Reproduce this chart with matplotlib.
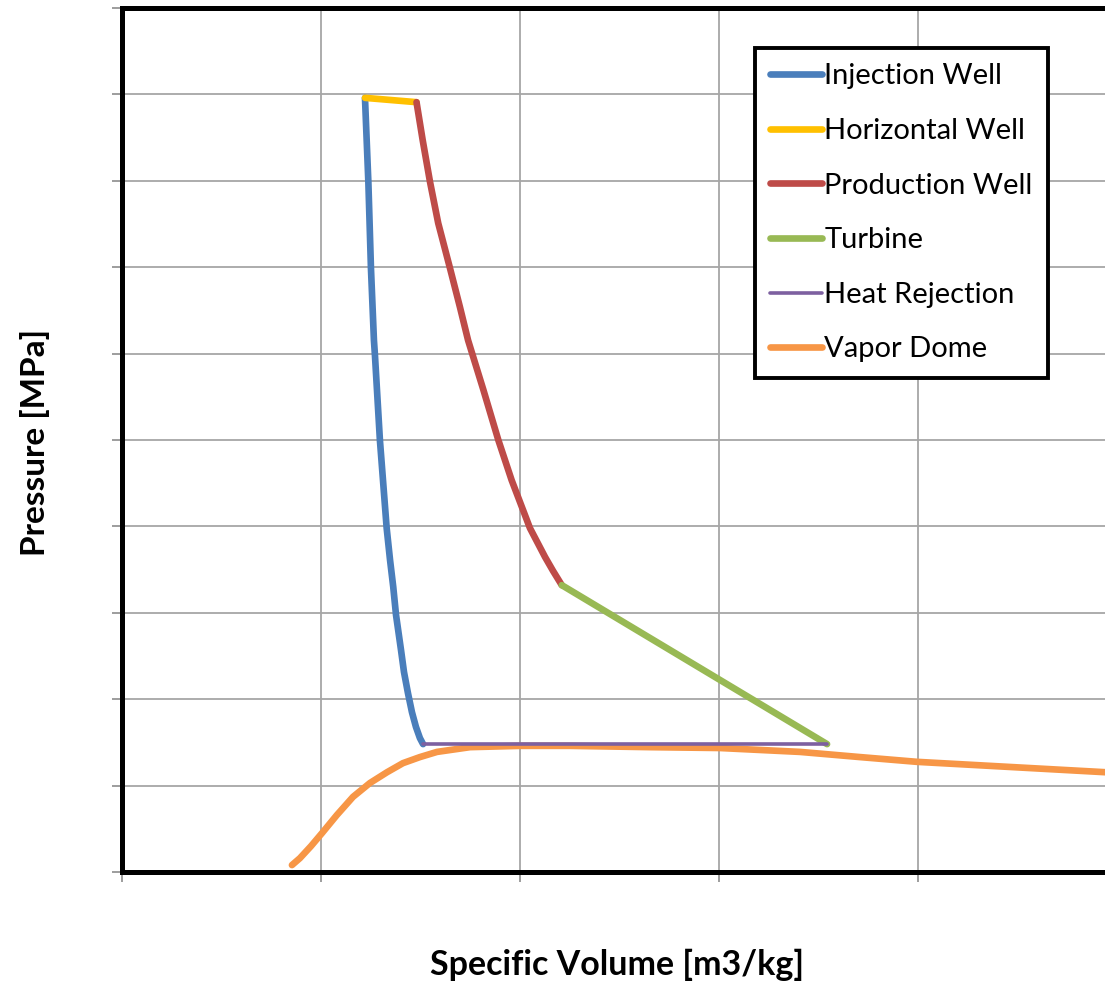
import matplotlib
matplotlib.use("Agg")
import matplotlib.pyplot as plt

# Data (x in grid units of specific volume, y in MPa)
inj_x = [1.221, 1.238, 1.251, 1.266, 1.271, 1.296, 1.330, 1.347, 1.363, 1.377,
         1.402, 1.417, 1.437, 1.457, 1.477, 1.497, 1.513]
inj_y = [17.92, 15.97, 13.98, 12.31, 11.97, 10.00, 7.96, 7.22, 6.60, 5.95,
         5.14, 4.63, 4.14, 3.70, 3.36, 3.10, 2.96]

hor_x = [1.221, 1.480]
hor_y = [17.92, 17.82]

prod_x = [1.480, 1.511, 1.548, 1.589, 1.648, 1.698, 1.739, 1.816, 1.891, 1.958,
          2.050, 2.126, 2.166, 2.210]
prod_y = [17.82, 16.94, 15.97, 15.02, 13.98, 13.08, 12.31, 11.16, 10.00, 9.07,
          7.96, 7.29, 6.97, 6.64]

turb_x = [2.210, 3.543]
turb_y = [6.64, 2.96]

heat_x = [1.513, 3.543]
heat_y = [2.96, 2.96]

dome_x = [0.854, 0.894, 0.950, 1.005, 1.080, 1.161, 1.246, 1.332, 1.412, 1.497,
          1.583, 1.749, 2.000, 2.251, 2.653, 3.005, 3.407, 3.709, 3.995, 4.940]
dome_y = [0.16, 0.32, 0.60, 0.90, 1.32, 1.74, 2.06, 2.31, 2.52, 2.66,
          2.78, 2.89, 2.92, 2.92, 2.89, 2.87, 2.78, 2.66, 2.55, 2.31]

x_ticks = [0, 1, 2, 3, 4, 5]
y_ticks = [0, 2, 4, 6, 8, 10, 12, 14, 16, 18, 20]

W, H = 1105, 985
fig = plt.figure(figsize=(W / 100, H / 100), dpi=100)
left, right_px, bottom_px, top_px = 122, 1117, 872, 8
ax = fig.add_axes([left / W, (H - bottom_px) / H, (right_px - left) / W, (bottom_px - top_px) / H])

ax.set_xlim(0, 5)
ax.set_ylim(0, 20)
ax.set_xticks(x_ticks)
ax.set_yticks(y_ticks)
ax.set_xticklabels([])
ax.set_yticklabels([])
ax.grid(True, color="#A6A6A6", linewidth=1.3)
ax.set_axisbelow(True)
ax.tick_params(axis="both", direction="out", length=7, width=1.2, color="#8C8C8C")
for s in ax.spines.values():
    s.set_linewidth(3.6)
    s.set_color("black")

lw = 4.8
kw = dict(solid_capstyle="round", solid_joinstyle="round")
ax.plot(inj_x, inj_y, color="#4A7EBB", lw=lw, label="Injection Well", zorder=3, **kw)
ax.plot(hor_x, hor_y, color="#FFC000", lw=lw, label="Horizontal Well", zorder=3, **kw)
ax.plot(prod_x, prod_y, color="#BE4B48", lw=lw, label="Production Well", zorder=3, **kw)
ax.plot(turb_x, turb_y, color="#98B954", lw=lw, label="Turbine", zorder=3, **kw)
ax.plot(heat_x, heat_y, color="#7D60A0", lw=2.6, label="Heat Rejection", zorder=4, **kw)
ax.plot(dome_x, dome_y, color="#F79646", lw=lw, label="Vapor Dome", zorder=2, **kw)

font = "Lato"
leg = ax.legend(loc="upper left", bbox_to_anchor=(755 / W, (H - 48) / H),
                bbox_transform=fig.transFigure, frameon=True, fancybox=False,
                prop={"family": font, "size": 21}, handlelength=1.75,
                handletextpad=0.1, labelspacing=0.98, borderpad=0.53,
                borderaxespad=0)
leg.get_frame().set_edgecolor("black")
leg.get_frame().set_linewidth(2.8)
leg.get_frame().set_alpha(1)

fig.text(617 / W, (H - 965) / H, "Specific Volume [m3/kg]", ha="center", va="center",
         fontsize=24.5, fontweight="bold", family=font)
fig.text(35 / W, (H - 442) / H, "Pressure [MPa]", ha="center", va="center",
         rotation=90, fontsize=24, fontweight="bold", family=font)

fig.savefig("out.png", dpi=100)
